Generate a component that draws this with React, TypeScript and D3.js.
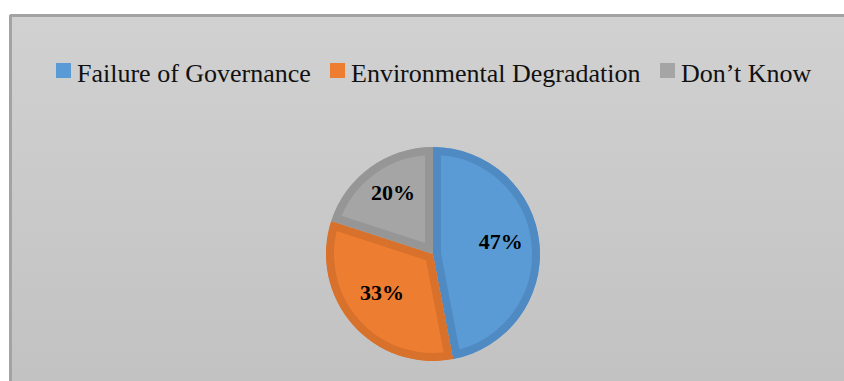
import React from "react";
import * as d3 from "d3";

const categories = ["Failure of Governance", "Environmental Degradation", "Don\u2019t Know"];
const values = [47, 33, 20];
const labels = ["47%", "33%", "20%"];
const fills = ["#5b9bd5", "#ed7d31", "#a5a5a5"];
const borders = ["#4f8ac3", "#d8712c", "#969696"];

const W = 844;
const H = 381;

export default function App() {
  const cx = 433;
  const cy = 254;
  const R = 107;
  const pie = d3.pie<number>().sort(null).value((d) => d)(values);
  const arc = d3.arc<d3.PieArcDatum<number>>().innerRadius(0).outerRadius(R);
  const labelArc = d3.arc<d3.PieArcDatum<number>>().innerRadius(136).outerRadius(136);

  const legendX = [56, 330, 660];
  const font = "'Liberation Serif', 'Times New Roman', serif";

  return (
    <svg
      width={W}
      height={H}
      style={{ position: "fixed", left: 0, top: 0, background: "#ffffff" }}
    >
      <defs>
        <linearGradient id="bg" x1="0" y1="0" x2="0" y2="1">
          <stop offset="0" stopColor="#d1d1d1" />
          <stop offset="1" stopColor="#c2c2c2" />
        </linearGradient>
        {pie.map((p, i) => (
          <clipPath id={`clip${i}`} key={i}>
            <path d={arc(p) || ""} transform={`translate(${cx},${cy})`} />
          </clipPath>
        ))}
      </defs>
      <rect x={10} y={15} width={W - 10} height={H - 15} fill="url(#bg)" />
      <line x1={10} y1={15.5} x2={W} y2={15.5} stroke="#a3a3a3" strokeWidth={3} />
      <line x1={10.5} y1={15} x2={10.5} y2={H} stroke="#a3a3a3" strokeWidth={3} />

      {categories.map((c, i) => (
        <g key={c}>
          <rect x={legendX[i]} y={63} width={15} height={15} fill={fills[i]} />
          <text x={legendX[i] + 21} y={82} fontFamily={font} fontSize={26} fill="#111">
            {c}
          </text>
        </g>
      ))}

      {pie.map((p, i) => (
        <g key={i} clipPath={`url(#clip${i})`}>
          <path
            d={arc(p) || ""}
            transform={`translate(${cx},${cy})`}
            fill={fills[i]}
            stroke={borders[i]}
            strokeWidth={16}
            strokeLinejoin="miter"
          />
        </g>
      ))}

      {pie.map((p, i) => {
        const [lx, ly] = labelArc.centroid(p);
        return (
          <text
            key={`l${i}`}
            x={cx + lx / 2}
            y={cy + ly / 2 - 6}
            textAnchor="middle"
            dominantBaseline="central"
            fontFamily={font}
            fontWeight="bold"
            fontSize={22}
            fill="#000"
          >
            {labels[i]}
          </text>
        );
      })}
    </svg>
  );
}
